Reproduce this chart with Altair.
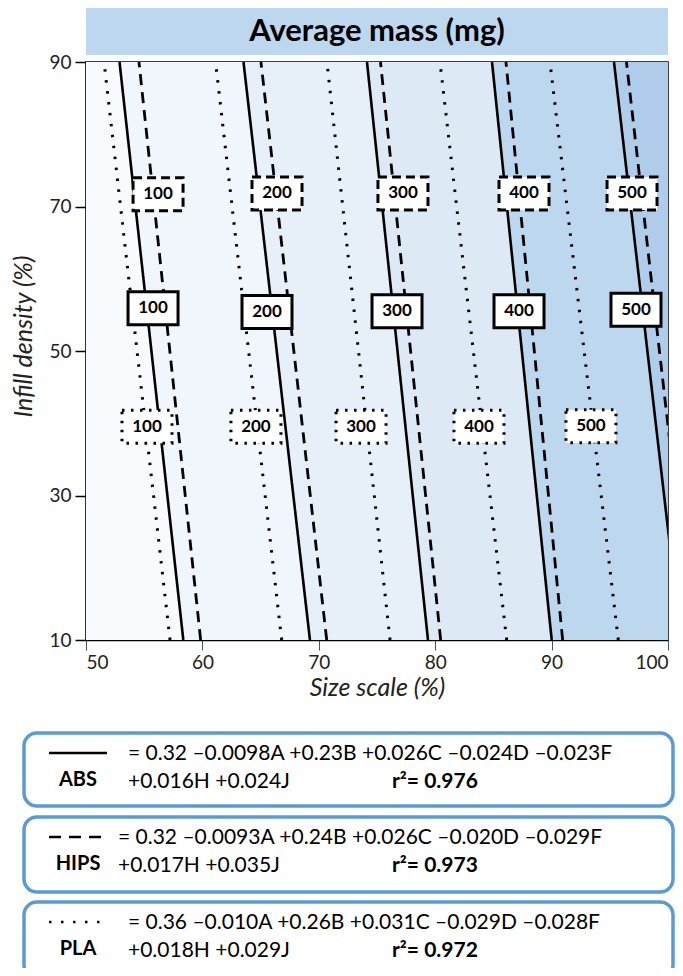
import altair as alt
import pandas as pd

# ---------------- data ----------------
levels = [100, 200, 300, 400, 500]
# x (size scale %) of each contour at infill 90 % (top) and 10 % (bottom)
abs_top = [52.88, 63.53, 74.14, 84.88, 95.36]
abs_bottom = [58.36, 69.24, 79.38, 90.01, 101.1]
hips_top = [54.55, 65.03, 75.30, 86.08, 96.43]
hips_bottom = [59.85, 70.68, 80.47, 90.95, 102.1]
pla_top = [51.55, 61.13, 70.70, 80.41, 89.86]
pla_bottom = [57.22, 66.81, 76.12, 86.14, 95.73]
y_top, y_bottom = 90, 10

# contour label positions
abs_lab_x = [55.76, 65.55, 76.72, 87.20, 97.25]
abs_lab_y = [55.9, 55.4, 55.5, 55.5, 55.7]
hips_lab_x = [56.19, 66.41, 77.23, 87.63, 96.91]
hips_lab_y = [71.7, 71.8, 71.8, 71.8, 71.8]
pla_lab_x = [55.24, 64.60, 73.63, 83.76, 93.38]
pla_lab_y = [39.5, 39.5, 39.5, 39.5, 39.6]

band_colors = ["#F8FBFE", "#F1F6FC", "#E7F0F9", "#DDEAF6", "#BDD7EE", "#AFCDEA"]

x_ticks = [50, 60, 70, 80, 90, 100]
y_ticks = [10, 30, 50, 70, 90]

title_text = "Average mass (mg)"
materials = ["ABS", "HIPS", "PLA"]
eq_line1 = [
    "= 0.32 \u20130.0098A +0.23B +0.026C \u20130.024D \u20130.023F",
    "= 0.32 \u20130.0093A +0.24B +0.026C \u20130.020D \u20130.029F",
    "= 0.36 \u20130.010A +0.26B +0.031C \u20130.029D \u20130.028F",
]
eq_line2 = ["+0.016H +0.024J", "+0.017H +0.035J", "+0.018H +0.029J"]
r2 = ["0.976", "0.973", "0.972"]

FONT = "Lato"
W, H = 582, 578

xscale = alt.Scale(domain=[50, 100], nice=False, zero=False)
yscale = alt.Scale(domain=[10, 90], nice=False, zero=False)
xaxis = alt.Axis(
    values=x_ticks, title="Size scale (%)", grid=False,
    labelFontSize=19, labelFont=FONT, labelColor="#222222",
    labelAlign=alt.ExprRef(
        expr="datum.value == 50 ? 'left' : (datum.value == 100 ? 'right' : 'center')"),
    tickSize=10, tickColor="#44546A", tickWidth=1,
    domainColor="black", domainWidth=1.5, labelPadding=3,
    titleFont=FONT, titleFontSize=25, titleFontStyle="italic",
    titleFontWeight="normal", titleColor="#222222", titlePadding=3,
)
yaxis = alt.Axis(
    values=y_ticks, title="Infill density (%)", grid=False,
    labelFontSize=19, labelFont=FONT, labelColor="#222222",
    tickSize=11, tickColor="black", tickWidth=1.5,
    domainColor="black", domainWidth=1.5, labelPadding=4,
    titleFont=FONT, titleFontSize=25, titleFontStyle="italic",
    titleFontWeight="normal", titleColor="#222222",
    titleX=-50, titleY=274,
)


def X(field):
    return alt.X(field, type="quantitative", scale=xscale, axis=xaxis, stack=None)


def Y(field):
    return alt.Y(field, type="quantitative", scale=yscale, axis=yaxis)


layers = []

# background bands (between ABS contours), drawn cumulatively to avoid seams
lefts_top = [50] + abs_top
lefts_bottom = [50] + abs_bottom
for i, col in enumerate(band_colors):
    bd = pd.DataFrame({
        "y": [y_top, y_bottom],
        "xl": [lefts_top[i], lefts_bottom[i]],
        "xr": [100, 100],
    })
    layers.append(
        alt.Chart(bd).mark_area(orient="horizontal", clip=True, color=col, opacity=1)
        .encode(y=Y("y"), x=X("xl"), x2="xr")
    )


def line_df(tops, bottoms):
    rows = []
    for lv, t, b in zip(levels, tops, bottoms):
        rows.append({"level": lv, "x": t, "y": y_top})
        rows.append({"level": lv, "x": b, "y": y_bottom})
    return pd.DataFrame(rows)


line_specs = [
    (abs_top, abs_bottom, dict(strokeWidth=2.6)),
    (hips_top, hips_bottom, dict(strokeWidth=2.8, strokeDash=[11, 7])),
    (pla_top, pla_bottom, dict(strokeWidth=3, strokeDash=[2.5, 8.5])),
]
for tops, bottoms, style in line_specs:
    layers.append(
        alt.Chart(line_df(tops, bottoms)).mark_line(color="black", clip=True, **style)
        .encode(x=X("x"), y=Y("y"), detail="level:N", order="y:Q")
    )

box_shape = "M-1,-0.66L1,-0.66L1,0.66L-1,0.66Z"
label_specs = [
    (abs_lab_x, abs_lab_y, dict(strokeWidth=3)),
    (hips_lab_x, hips_lab_y, dict(strokeWidth=3, strokeDash=[9, 5])),
    (pla_lab_x, pla_lab_y, dict(strokeWidth=3, strokeDash=[2.5, 6.5])),
]
for lx, ly, style in label_specs:
    ld = pd.DataFrame({"x": lx, "y": ly, "t": [str(v) for v in levels]})
    layers.append(
        alt.Chart(ld).mark_point(shape=box_shape, size=2500, filled=True, fill="white",
                                 stroke="black", opacity=1, fillOpacity=1, **style)
        .encode(x=X("x"), y=Y("y"))
    )
    layers.append(
        alt.Chart(ld).mark_text(font=FONT, fontWeight="bold", fontSize=17, color="black")
        .encode(x=X("x"), y=Y("y"), text="t:N")
    )

one = pd.DataFrame({"k": [0]})

# title band above the plot
layers.append(
    alt.Chart(one).mark_rect(fill="#BDD7EE", clip=False)
    .encode(x=alt.value(0), x2=alt.value(W), y=alt.value(-54), y2=alt.value(-7))
)
layers.append(
    alt.Chart(one).mark_text(text=title_text, font=FONT, fontWeight="bold", fontSize=31,
                             color="black", align="center", baseline="middle")
    .encode(x=alt.value(W / 2), y=alt.value(-30))
)

# equation boxes below the plot
box_y = [(671, 744), (755, 830), (840, 916)]
sym_dash = [None, [12, 8], [2.5, 9.5]]
for i in range(3):
    y0, y1 = box_y[i]
    layers.append(
        alt.Chart(one).mark_rect(fill="white", stroke="#5B9BD5", strokeWidth=3.5,
                                 cornerRadius=13, clip=False)
        .encode(x=alt.value(-62), x2=alt.value(587), y=alt.value(y0), y2=alt.value(y1))
    )
    rule_kw = dict(color="black", strokeWidth=2.6)
    if sym_dash[i] is not None:
        rule_kw["strokeDash"] = sym_dash[i]
    layers.append(
        alt.Chart(one).mark_rule(**rule_kw)
        .encode(x=alt.value(-37), x2=alt.value(21), y=alt.value(y0 + 20))
    )
    layers.append(
        alt.Chart(one).mark_text(text=materials[i], font=FONT, fontWeight="bold", fontSize=20,
                                 align="center", baseline="middle", color="black")
        .encode(x=alt.value(-8), y=alt.value(y0 + 47))
    )
    layers.append(
        alt.Chart(one).mark_text(text=eq_line1[i], font=FONT, fontSize=21,
                                 align="left", baseline="middle", color="black")
        .encode(x=alt.value(42 if i != 1 else 32), y=alt.value(y0 + 21))
    )
    layers.append(
        alt.Chart(one).mark_text(text=eq_line2[i], font=FONT, fontSize=21,
                                 align="left", baseline="middle", color="black")
        .encode(x=alt.value(42 if i != 1 else 32), y=alt.value(y0 + 49))
    )
    layers.append(
        alt.Chart(one).mark_text(text="r\u00b2= " + r2[i], font=FONT, fontWeight="bold",
                                 fontSize=21, align="left", baseline="middle", color="black")
        .encode(x=alt.value(306), y=alt.value(y0 + 49))
    )

chart = (
    alt.layer(*layers)
    .properties(
        width=W, height=H,
        autosize=alt.AutoSizeParams(type="none"),
        padding={"left": 78, "top": 54, "right": 7, "bottom": 328},
        background="white",
    )
    .configure_view(stroke="black", strokeWidth=1.5)
)

chart.save("out.html", embed_options={"renderer": "svg", "actions": False})
